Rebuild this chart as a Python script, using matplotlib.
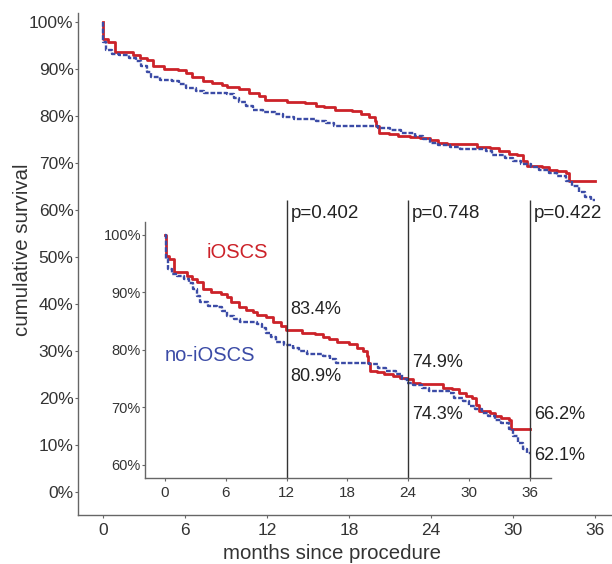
import matplotlib.pyplot as plt

plt.rcParams['font.family'] = ['Liberation Sans', 'DejaVu Sans']

# Kaplan-Meier steps (months, survival %)
t_ioscs = [0, 0.05, 0.4, 0.9, 2.2, 2.7, 3.2, 3.7, 4.5, 5.5, 6.1, 6.5, 7.3, 8.0, 8.7, 9.1,
           10.0, 10.7, 11.4, 11.9, 13.5, 14.8, 15.6, 16.2, 17.0, 18.2, 18.9, 19.5, 19.9,
           20.0, 20.2, 20.9, 21.6, 22.5, 23.2, 23.9, 24.5, 25.2, 27.4, 28.3, 29.0, 29.7,
           30.3, 30.7, 31.0, 32.1, 32.6, 33.2, 33.9, 34.1, 36.0]
s_ioscs = [100, 96.4, 95.8, 93.5, 92.9, 92.4, 91.8, 90.6, 90.0, 89.7, 89.2, 88.3, 87.4, 87.0,
           86.6, 86.1, 85.7, 84.9, 84.2, 83.4, 83.0, 82.7, 82.2, 81.9, 81.3, 81.0, 80.4, 79.8,
           79.0, 77.8, 76.4, 76.1, 75.8, 75.5, 75.2, 74.9, 74.3, 74.0, 73.4, 73.2, 72.6, 72.0,
           71.7, 70.5, 69.4, 69.1, 68.5, 68.2, 67.9, 66.2, 66.2]

t_no = [0, 0.05, 0.25, 0.7, 1.2, 1.9, 2.4, 2.8, 3.2, 3.5, 4.2, 5.1, 5.6, 6.1, 6.8, 7.4, 9.1,
        9.6, 10.0, 10.5, 11.0, 11.7, 12.6, 13.2, 14.0, 15.6, 16.3, 16.9, 20.1, 21.0, 21.8,
        22.8, 23.4, 23.9, 24.5, 25.4, 26.1, 28.0, 28.5, 29.4, 30.0, 30.6, 31.3, 31.9, 32.6,
        33.2, 33.9, 34.3, 34.8, 35.3, 35.7, 36.0]
s_no = [100, 95.8, 94.1, 93.2, 92.9, 92.3, 91.7, 90.6, 89.4, 88.3, 87.7, 87.4, 86.8, 85.9,
        85.4, 84.8, 84.6, 83.9, 83.0, 82.2, 81.3, 80.9, 80.4, 79.8, 79.3, 79.0, 78.4, 77.8,
        77.5, 76.9, 76.4, 75.8, 75.0, 74.3, 73.9, 73.4, 72.9, 72.6, 71.7, 71.1, 70.3, 69.7,
        69.1, 68.5, 67.9, 67.3, 66.2, 65.0, 63.9, 62.7, 62.1, 62.1]

x_ticks = [0, 6, 12, 18, 24, 30, 36]
main_yticks = [0, 10, 20, 30, 40, 50, 60, 70, 80, 90, 100]
inset_yticks = [60, 70, 80, 90, 100]

cut_months = [12, 24, 36]
p_values = ['p=0.402', 'p=0.748', 'p=0.422']
surv_ioscs_at_cut = ['83.4%', '74.9%', '66.2%']
surv_no_at_cut = ['80.9%', '74.3%', '62.1%']

red = '#cc2229'
blue = '#3b4ba6'
spine_col = '#666666'
txt_col = '#333333'


def draw_curves(a, lw):
    a.step(t_ioscs, s_ioscs, where='post', color=red, lw=lw)
    a.step(t_no, s_no, where='post', color=blue, lw=lw * 0.85, linestyle=(0, (2, 0.8)))


def style_axes(a, fs):
    for side in ['top', 'right']:
        a.spines[side].set_visible(False)
    for side in ['left', 'bottom']:
        a.spines[side].set_color(spine_col)
        a.spines[side].set_linewidth(1.0)
    a.tick_params(axis='y', length=2, width=0.8, color=spine_col, labelcolor=txt_col,
                  labelsize=fs, pad=1)
    a.tick_params(axis='x', length=2, width=0.8, color=spine_col, labelcolor=txt_col,
                  labelsize=fs, pad=4)


fig = plt.figure(figsize=(6.12, 5.64), dpi=100)

# main plot
ax = fig.add_axes([0.127, 0.087, 0.873, 0.89])
draw_curves(ax, 2.0)
ax.set_xlim(-1.83, 37.24)
ax.set_ylim(-4.9, 101.9)
ax.set_xticks(x_ticks)
ax.set_yticks(main_yticks)
ax.set_yticklabels([f'{v}%' for v in main_yticks])
style_axes(ax, 12.5)
fig.text(0.5425, 0.019, 'months since procedure', fontsize=14.7, color=txt_col,
         ha='center', va='center')
fig.text(0.036, 0.557, 'cumulative survival', fontsize=14.7, color=txt_col,
         ha='center', va='center', rotation=90)

# zoomed inset
ins = fig.add_axes([0.237, 0.1525, 0.663, 0.454])
ins.patch.set_alpha(0)
draw_curves(ins, 2.0)
ins.set_xlim(-1.97, 38.07)
ins.set_ylim(57.74, 102.26)
ins.set_xticks(x_ticks)
ins.set_yticks(inset_yticks)
ins.set_yticklabels([f'{v}%' for v in inset_yticks])
style_axes(ins, 10.5)
ins.tick_params(axis='x', labelsize=11, pad=4)

ins.vlines(cut_months, 57.74, 106.1, color='#333333', lw=1.0, clip_on=False)
for m, p in zip(cut_months, p_values):
    ins.text(m + 0.4, 103.7, p, fontsize=13.5, color='#222222', va='center', ha='left',
             clip_on=False)
for m, a, ya in zip(cut_months, surv_ioscs_at_cut, [87.0, 77.9, 68.7]):
    ins.text(m + 0.4, ya, a, fontsize=13, color='#222222', va='center', ha='left',
             clip_on=False)
for m, b, yb in zip(cut_months, surv_no_at_cut, [75.3, 68.7, 61.7]):
    ins.text(m + 0.4, yb, b, fontsize=13, color='#222222', va='center', ha='left',
             clip_on=False)

ins.text(4.1, 97.0, 'iOSCS', fontsize=14.5, color=red, va='center', ha='left')
ins.text(0.0, 79.1, 'no-iOSCS', fontsize=14.5, color=blue, va='center', ha='left')

fig.savefig('out.png', dpi=100)
